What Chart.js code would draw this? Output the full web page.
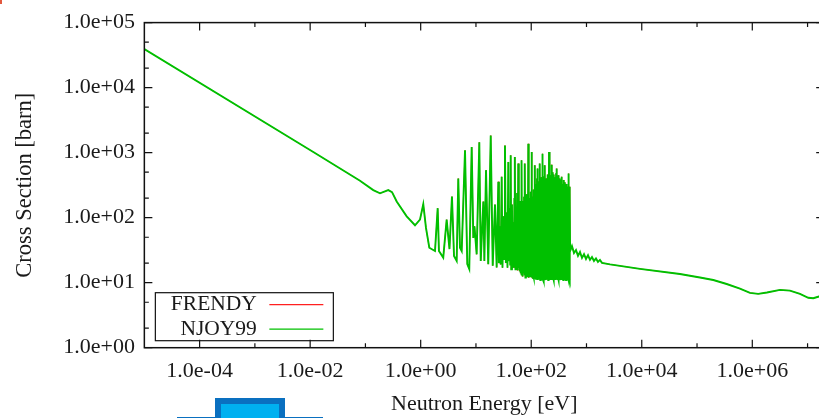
<!DOCTYPE html>
<html>
<head>
<meta charset="utf-8">
<script src="https://cdn.jsdelivr.net/npm/chart.js@4.4.0/dist/chart.umd.min.js"></script>
<style>
  html, body { margin: 0; padding: 0; background: #fff; overflow: hidden; }
  #wrap { position: relative; width: 819px; height: 418px; overflow: hidden; }
  #xsChart { position: absolute; left: 0; top: 0; }
  .mark { position: absolute; }
</style>
</head>
<body>
<div id="wrap">
  <canvas id="xsChart" width="840" height="418"></canvas>
  <div class="mark" style="left:0;top:0;width:2px;height:4px;background:#e2583e"></div>
  <div class="mark" style="left:177px;top:416.5px;width:146px;height:1.5px;background:#0a70c0"></div>
  <div class="mark" style="left:215px;top:398px;width:70px;height:20px;background:#0a70c0"></div>
  <div class="mark" style="left:221px;top:404px;width:58px;height:14px;background:#00b0f0"></div>
</div>
<script>
// total cross section vs neutron energy as [eV, barn]
const thermalPoints = [
  [1e-5, 39100], [0.0114, 1021], [0.0798, 370], [0.1387, 265], [0.1836, 237],
  [0.259, 265], [0.303, 247], [0.368, 177], [0.558, 104.7], [0.789, 76.4],
  [0.971, 93.3], [1.114, 161], [1.247, 69.5], [1.432, 34.5], [1.815, 30.7],
  [2.03, 140], [2.14, 30.7]
];

const lowResonancePoints = [
  [2.56, 24.3], [2.95, 93.2], [3.32, 32.9], [3.68, 211], [4.01, 25.8],
  [4.48, 21.6], [4.79, 401], [5.14, 34.5], [5.52, 30.7], [6.34, 1084],
  [6.97, 19.3], [7.57, 16.2], [8.37, 1217], [8.95, 48.9], [9.4, 73.8],
  [10.3, 27.3], [11.5, 1450], [12.2, 21.6], [13.6, 177], [14.2, 21.6],
  [15.2, 538], [16.7, 19.3], [18.5, 1834], [20.1, 18.2], [22.1, 159],
  [23.7, 17.1], [25.4, 357]
];

const denseResonancePoints = [
  [26, 20], [27, 74], [28, 19], [29.2, 426], [30.2, 17], [31.2, 105],
  [32.2, 23], [33.5, 1290], [34.8, 20], [36, 120], [37.2, 17], [38.5, 719],
  [39.7, 22], [40.8, 140], [41.7, 19], [42.5, 910], [43.5, 16], [44.8, 160],
  [46, 21], [47.3, 85], [48.5, 17], [49.6, 200], [50.2, 18], [50.8, 857],
  [51.8, 16], [53, 130], [54.3, 20], [55.6, 240], [56.8, 15.5], [58.3, 678],
  [59.5, 17], [60.8, 180], [62, 15],
  [63.2, 150], [64.4, 14], [65.6, 110], [66.4, 13], [67.2, 764], [68.2, 15],
  [69.3, 180], [70.5, 12.5], [71.7, 130], [73, 14], [74.3, 210], [75.6, 13],
  [77.1, 678], [78.5, 12], [80, 170], [81.5, 14], [83, 230], [84.5, 12.5],
  [86, 140], [87.3, 13.5], [88.5, 1366], [90, 12], [91.5, 200], [93, 14],
  [94.5, 130], [96, 12.5], [97.5, 250], [99, 13], [100.3, 170], [101.1, 12],
  [102, 1021], [103.2, 13.5], [104.5, 210], [106, 11.5], [107.5, 150], [109, 13],
  [110.5, 270], [112, 12], [113.5, 180], [115, 11.5], [117, 641], [118.8, 12.5],
  [120.5, 330], [122.3, 11.5], [124, 220], [125.8, 13], [127.5, 400], [128.2, 12],
  [129.1, 569], [130.5, 11], [132.5, 280], [134.5, 12.5], [136.5, 360], [138.5, 11.5],
  [140.5, 240], [142.3, 12], [144, 678], [146, 11], [148, 310], [150, 12.5],
  [152, 420], [154, 11], [155.8, 300], [157, 12], [158.3, 962], [160, 11.5],
  [162, 380], [164, 12], [166, 270], [168, 11], [170, 430], [172, 12.5],
  [174, 330], [175.5, 11], [177, 641], [179, 12], [181, 290], [183, 11],
  [185.5, 400], [188, 12], [190.5, 330], [193, 11.5], [195.5, 460], [198, 12],
  [200.5, 300], [203, 11], [205.5, 380], [208, 12.5], [210, 1021], [212.5, 11],
  [215, 420], [217.5, 12], [220, 300], [222.5, 11], [225, 450], [227.5, 12],
  [230, 350], [232.5, 11], [235, 654], [237.5, 12], [240, 380], [243, 11],
  [246, 500], [249, 12], [252, 330], [255, 11], [258, 460], [261, 12],
  [264, 380], [267, 11], [270, 420], [273, 12], [276, 300], [279, 11],
  [282, 480], [285, 12], [289, 569], [292, 11.5], [295, 400], [298.5, 11],
  [302, 330], [305.5, 12], [309, 450], [312.5, 11], [316, 290], [319.5, 12.5],
  [323, 400], [326.5, 11], [330, 330], [334, 12], [338, 380], [342, 11],
  [346, 300], [350, 12], [356, 426], [360, 11], [365, 330], [370, 12.5],
  [375, 280], [380, 11], [385, 380], [390, 12], [396, 300], [402, 11],
  [408, 350], [414, 12], [420, 260], [426, 11], [432, 330], [438, 12],
  [445, 280], [452, 11], [460, 300], [464, 12], [469, 477], [474, 11],
  [480, 260], [486, 12], [492, 300], [497, 11], [502, 250]
];

const fastPoints = [
  [505, 30.7], [546, 36.6], [594, 28.6], [646, 31.8], [702, 25.8], [763, 29.6],
  [829, 24.0], [902, 27.5], [980, 23.2], [1065, 26.5], [1157, 22.4], [1257, 24.8],
  [1367, 21.6], [1486, 23.6], [1614, 20.9], [1754, 22.4], [1906, 20.2], [2663, 19.1],
  [9290, 16.3], [4.91e4, 13.6], [1.13e5, 12.0], [1.97e5, 11.0], [3.44e5, 9.55],
  [5.98e5, 8.1], [9.08e5, 6.97], [1.28e6, 6.73], [1.84e6, 7.05], [3.17e6, 7.74],
  [4.8e6, 7.55], [7.29e6, 6.73], [1.03e7, 5.85], [1.27e7, 5.77], [1.61e7, 6.12],
  [2e7, 6.34]
];

const xMajorTicks = [1e-4, 1e-2, 1, 1e2, 1e4, 1e6];
const xMajorLabels = ['1.0e-04', '1.0e-02', '1.0e+00', '1.0e+02', '1.0e+04', '1.0e+06'];
const xMinorTicks = [1e-3, 1e-1, 10, 1e3, 1e5, 1e7];
const yMajorTicks = [1, 10, 100, 1e3, 1e4, 1e5];
const yMajorLabels = ['1.0e+00', '1.0e+01', '1.0e+02', '1.0e+03', '1.0e+04', '1.0e+05'];
const yMinorTicks = [2, 5, 20, 50, 200, 500, 2000, 5000, 20000, 50000];

const seriesLabels = ['FRENDY', 'NJOY99'];
const seriesColors = ['#ff2020', '#00c000'];

const curve = [...thermalPoints, ...lowResonancePoints, ...denseResonancePoints, ...fastPoints]
  .map(([x, y]) => ({ x, y }));

const TEXT = '#1a1a1a';
Chart.defaults.font.family = "'Liberation Serif', 'Times New Roman', serif";
Chart.defaults.font.size = 22;
Chart.defaults.color = TEXT;

function tickList(major, minor) {
  return [...major, ...minor].sort((a, b) => a - b).map(v => ({ value: v }));
}

// frame with inward ticks on all four sides
const frameTicks = {
  id: 'frameTicks',
  afterDatasetsDraw(chart) {
    const { ctx, chartArea: a, scales: { x, y } } = chart;
    ctx.save();
    ctx.strokeStyle = '#111';
    ctx.lineWidth = 1.2;
    ctx.beginPath();
    const xt = (vals, len) => vals.forEach(v => {
      const p = x.getPixelForValue(v);
      ctx.moveTo(p, a.bottom); ctx.lineTo(p, a.bottom - len);
      ctx.moveTo(p, a.top); ctx.lineTo(p, a.top + len);
    });
    const yt = (vals, len) => vals.forEach(v => {
      const p = y.getPixelForValue(v);
      ctx.moveTo(a.left, p); ctx.lineTo(a.left + len, p);
      ctx.moveTo(a.right, p); ctx.lineTo(a.right - len, p);
    });
    xt(xMajorTicks, 8); xt(xMinorTicks, 4.5);
    yt(yMajorTicks, 8); yt(yMinorTicks, 4.5);
    ctx.stroke();
    ctx.lineWidth = 1.5;
    ctx.strokeRect(a.left, a.top, a.right - a.left, a.bottom - a.top);
    ctx.restore();
  }
};

// gnuplot style key: label on the left, sample line on the right
const keyBox = {
  id: 'keyBox',
  afterDraw(chart) {
    const { ctx, chartArea: a } = chart;
    const x0 = a.left + 11, w = 178, h = 48;
    const y1 = a.bottom - 7, y0 = y1 - h;
    ctx.save();
    ctx.strokeStyle = '#111';
    ctx.lineWidth = 1.2;
    ctx.strokeRect(x0, y0, w, h);
    ctx.font = "21.5px 'Liberation Serif', serif";
    ctx.fillStyle = TEXT;
    ctx.textAlign = 'right';
    ctx.textBaseline = 'middle';
    chart.data.datasets.forEach((ds, i) => {
      const ry = y0 + 12 + i * 24.4;
      ctx.fillText(ds.label, x0 + 101.5, ry);
      ctx.strokeStyle = ds.borderColor;
      ctx.lineWidth = 1.3;
      ctx.beginPath();
      ctx.moveTo(x0 + 114, ry);
      ctx.lineTo(x0 + 168, ry);
      ctx.stroke();
    });
    ctx.restore();
  }
};

new Chart(document.getElementById('xsChart'), {
  type: 'line',
  data: {
    datasets: [
      { label: seriesLabels[0], data: curve, borderColor: seriesColors[0], borderWidth: 0.8, order: 1 },
      { label: seriesLabels[1], data: curve, borderColor: seriesColors[1], borderWidth: 1.9, order: 0 }
    ]
  },
  options: {
    responsive: false,
    animation: false,
    devicePixelRatio: 1,
    layout: { padding: { left: 0, top: 19, right: 15.8, bottom: 0 } },
    elements: {
      point: { radius: 0 },
      line: { tension: 0, fill: false }
    },
    plugins: { legend: { display: false }, tooltip: { enabled: false } },
    scales: {
      x: {
        type: 'logarithmic',
        min: 1e-5,
        max: 2e7,
        afterFit: s => { s.height = 70.3; },
        afterBuildTicks: s => { s.ticks = tickList(xMajorTicks, xMinorTicks); },
        grid: { display: false, drawTicks: false },
        border: { display: false },
        ticks: {
          autoSkip: false, maxRotation: 0, padding: 10.5, color: TEXT,
          callback: v => { const i = xMajorTicks.indexOf(v); return i < 0 ? '' : xMajorLabels[i]; }
        },
        title: { display: true, text: 'Neutron Energy [eV]', color: TEXT, padding: { top: 0, bottom: 0.8 } }
      },
      y: {
        type: 'logarithmic',
        min: 1,
        max: 1e5,
        afterFit: s => { s.width = 144.35; },
        afterBuildTicks: s => { s.ticks = tickList(yMajorTicks, yMinorTicks); },
        grid: { display: false, drawTicks: false },
        border: { display: false },
        ticks: {
          autoSkip: false, padding: 9.4, color: TEXT,
          callback: v => { const i = yMajorTicks.indexOf(v); return i < 0 ? '' : yMajorLabels[i]; }
        },
        title: {
          display: true, text: 'Cross Section [barn]', color: TEXT,
          font: { size: 22.5 }, padding: { top: 11.6, bottom: 0 }
        }
      }
    }
  },
  plugins: [frameTicks, keyBox]
});
</script>
</body>
</html>
